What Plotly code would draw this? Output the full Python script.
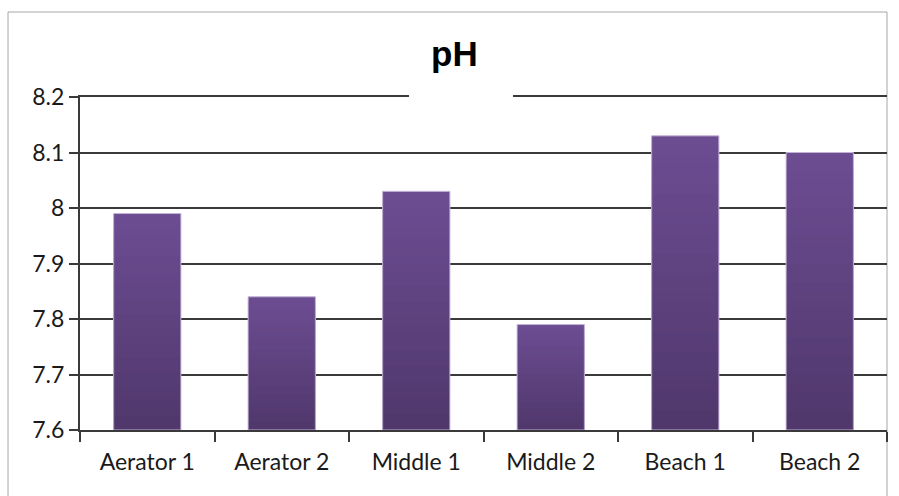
import plotly.graph_objects as go

# pH readings per sampling site
sites = ["Aerator 1", "Aerator 2", "Middle 1", "Middle 2", "Beach 1", "Beach 2"]
ph_values = [7.99, 7.84, 8.03, 7.79, 8.13, 8.10]
y_ticks = [7.6, 7.7, 7.8, 7.9, 8.0, 8.1, 8.2]
y_tick_text = ["7.6", "7.7", "7.8", "7.9", "8", "8.1", "8.2"]
y_floor = 7.6

W, H = 899, 496
L, R, T, B = 80, 12, 97, 66
plot_w = W - L - R
plot_h = H - T - B

def px_x(x):
    return (x - L) / plot_w

def px_y(y):
    return (H - B - y) / plot_h

# vertical gradient inside each bar: nested bars from the floor upward,
# the tallest (lightest) drawn first and each shorter, darker one over it
top_rgb = (0x6d, 0x4d, 0x93)
bot_rgb = (0x4f, 0x37, 0x6b)
n_slices = 30

fig = go.Figure()
for k in reversed(range(n_slices)):
    f = (k + 0.5) / n_slices
    rgb = tuple(round(b + (t - b) * f) for t, b in zip(top_rgb, bot_rgb))
    heights = [(v - y_floor) * (k + 1) / n_slices for v in ph_values]
    fig.add_trace(go.Bar(
        x=sites, y=heights, base=[y_floor] * len(sites),
        marker=dict(color="rgb(%d,%d,%d)" % rgb, line=dict(width=0)),
        hoverinfo="skip", showlegend=False,
    ))

# outline and hover for each bar
fig.add_trace(go.Bar(
    x=sites, y=[v - y_floor for v in ph_values], base=[y_floor] * len(sites),
    marker=dict(color="rgba(0,0,0,0)", line=dict(color="#c2b3d6", width=1)),
    customdata=ph_values, hovertemplate="%{x}: %{customdata}<extra></extra>",
    showlegend=False,
))

tick_font = dict(family="Lato, 'Open Sans', sans-serif", size=23, color="#1a1a1a")

fig.update_layout(
    width=W, height=H,
    margin=dict(l=L, r=R, t=T, b=B, pad=0),
    paper_bgcolor="white", plot_bgcolor="white",
    barmode="overlay", bargap=0.5,
    xaxis=dict(
        type="category", tickson="boundaries",
        ticks="outside", ticklen=10, tickwidth=2, tickcolor="#3a3a3a",
        showline=True, mirror=True, linecolor="#3a3a3a", linewidth=2,
        showgrid=False, tickfont=tick_font, ticklabelstandoff=10,
        fixedrange=True,
    ),
    yaxis=dict(
        range=[7.6, 8.2], tickvals=y_ticks, ticktext=y_tick_text,
        ticks="outside", ticklen=9, tickwidth=2, tickcolor="#3a3a3a",
        showline=True, linecolor="#3a3a3a", linewidth=2,
        showgrid=True, gridcolor="#3a3a3a", gridwidth=2,
        zeroline=False, tickfont=tick_font, ticklabelstandoff=0,
        fixedrange=True,
    ),
    shapes=[
        # chart frame
        dict(type="rect", xref="paper", yref="paper",
             x0=px_x(8), x1=px_x(887), y0=px_y(520), y1=px_y(12),
             line=dict(color="#a6a6a6", width=1), fillcolor="rgba(0,0,0,0)",
             layer="below"),
        # white backing behind the title, breaking the top gridline
        dict(type="rect", xref="paper", yref="paper",
             x0=px_x(409), x1=px_x(513), y0=px_y(101), y1=px_y(30),
             line=dict(width=0), fillcolor="white", layer="above"),
    ],
    annotations=[
        dict(text="<b>pH</b>", xref="paper", yref="paper",
             x=px_x(454), y=px_y(54), xanchor="center", yanchor="middle",
             showarrow=False,
             font=dict(family="Liberation Sans, Arial, sans-serif", size=35, color="black")),
    ],
)

fig.write_html("out.html")
